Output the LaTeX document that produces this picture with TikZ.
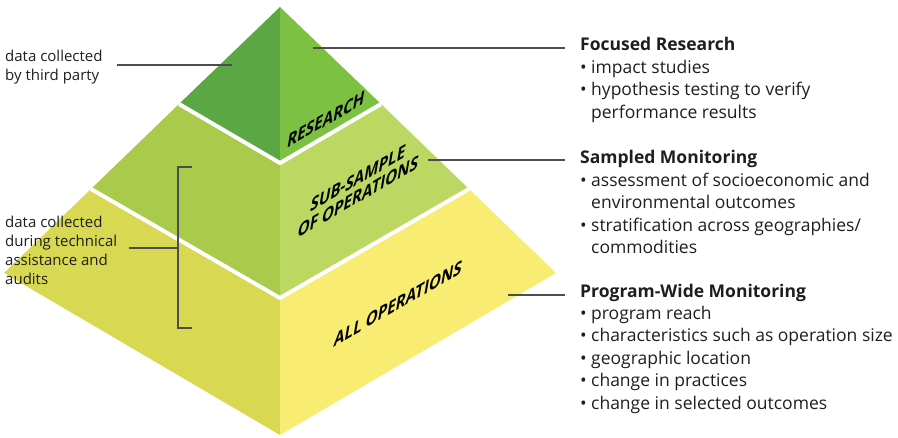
\documentclass[tikz,border=0pt]{standalone}
\usepackage{fontspec}
\setmainfont{Open Sans}
\newfontfamily\plabfont{Open Sans}[FakeSlant=0.22]
\definecolor{resL}{HTML}{5BA744}
\definecolor{resR}{HTML}{7DC143}
\definecolor{midL}{HTML}{A9CA4B}
\definecolor{midR}{HTML}{BDD862}
\definecolor{botL}{HTML}{D8D853}
\definecolor{botR}{HTML}{F8EC72}
\definecolor{conn}{HTML}{4D4D4D}
\definecolor{txt}{HTML}{1E1E1E}
\newcommand{\pbul}{\makebox[11pt][l]{\textbullet}}
\newcommand{\pind}{\hspace*{11pt}}
\begin{document}
\begin{tikzpicture}[x=1pt,y=-1pt,
  conline/.style={draw=conn, line width=1.4pt},
  gap/.style={draw=white, line width=4pt, line join=miter},
  plab/.style={font=\fontsize{17.5}{18.5}\selectfont\plabfont\bfseries, text=black, inner sep=0pt, cm={0.866,0.5,0,1,(0,0)}, align=center},
  head/.style={font=\fontsize{17.5}{22.5}\selectfont\bfseries, text=txt, inner sep=0pt, anchor=base west},
  blist/.style={font=\fontsize{17.5}{22.5}\selectfont, text=txt, inner sep=0pt, anchor=north west, align=left},
  llab/.style={font=\fontsize{15}{19}\selectfont, text=txt, inner sep=0pt, anchor=west, align=left}]
\useasboundingbox (0,0) rectangle (898,437);
% pyramid corners
\coordinate (A) at (280,7);
\coordinate (RL) at (179,104);
\coordinate (RB) at (280,163);
\coordinate (RR) at (381,104);
\coordinate (ML) at (91,189);
\coordinate (MB) at (280,298);
\coordinate (MR) at (469,189);
\coordinate (BL) at (4,273);
\coordinate (BB) at (280,435);
\coordinate (BR) at (556,273);
% faces
\fill[resL] (A) -- (RL) -- (RB) -- cycle;
\fill[resR] (A) -- (RR) -- (RB) -- cycle;
\fill[midL] (RL) -- (ML) -- (MB) -- (RB) -- cycle;
\fill[midR] (RR) -- (MR) -- (MB) -- (RB) -- cycle;
\fill[botL] (ML) -- (BL) -- (BB) -- (MB) -- cycle;
\fill[botR] (MR) -- (BR) -- (BB) -- (MB) -- cycle;
\draw[gap] (RL) -- (RB) -- (RR);
\draw[gap] (ML) -- (MB) -- (MR);
% pyramid labels
\node[plab] (research) at (325,120) {RESEARCH};
\node[plab] (sub) at (357,188) {SUB-SAMPLE\\OF OPERATIONS};
\node[plab] (allop) at (397,304) {ALL OPERATIONS};
% right texts
\node[head] (h1) at (580,50) {Focused Research};
\node[blist] (b1) at (580,59.5) {\pbul impact studies\\ \pbul hypothesis testing to verify\\ \pind performance results};
\node[head] (h2) at (580,163) {Sampled Monitoring};
\node[blist] (b2) at (580,172.5) {\pbul assessment of socioeconomic and\\ \pind environmental outcomes\\ \pbul stratification across geographies/\\ \pind commodities};
\node[head] (h3) at (580,297) {Program-Wide Monitoring};
\node[blist] (b3) at (580,305.5) {\pbul program reach\\ \pbul characteristics such as operation size\\ \pbul geographic location\\ \pbul change in practices\\ \pbul change in selected outcomes};
% left texts
\node[llab] (l1) at (5,67) {data collected\\by third party};
\node[llab] (l2) at (5,250) {data collected\\during technical\\assistance and\\audits};
% connectors
\coordinate (p1) at (232,65);
\coordinate (q1) at (117,65);
\draw[conline] (q1) -- (p1);
\coordinate (p2) at (313,48);
\coordinate (e2) at (565,48);
\draw[conline] (p2) -- (e2);
\coordinate (p3) at (428,160);
\coordinate (e3) at (565,160);
\draw[conline] (p3) -- (e3);
\coordinate (p4) at (508,295);
\coordinate (e4) at (565,295);
\draw[conline] (p4) -- (e4);
\coordinate (bt) at (192,167);
\coordinate (bb) at (192,328);
\coordinate (bm) at (178,248);
\coordinate (q2) at (129,248);
\draw[conline] (bt) -- (178,167) -- (178,328) -- (bb);
\draw[conline] (q2) -- (bm);
\end{tikzpicture}
\end{document}
